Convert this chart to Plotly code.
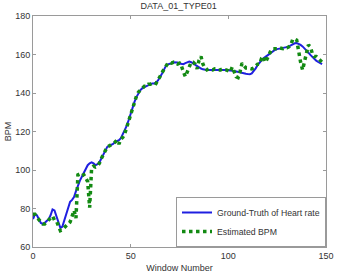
import plotly.graph_objects as go

windows = list(range(149))

ground_truth = [
    74.5, 77, 76.5, 74.5, 72.5, 72, 72.5, 73.5, 74.5, 76.5,
    79.5, 79, 76, 72, 70, 70.5, 74, 77.5, 81, 83.5,
    84.5, 86, 89, 92, 94.5, 96.5, 98.5, 100.5, 102.5, 103.5,
    104, 103.5, 102.5, 103, 104, 106, 108, 110.5, 112, 112.5,
    113, 113.5, 114.5, 115, 115.5, 116.5, 118.5, 120.5, 123, 126,
    129.5, 132.5, 135.5, 138, 140, 141.5, 142.5, 143, 143.5, 144,
    144.5, 145, 145, 145.5, 146.5, 148, 150, 152, 154, 154.8,
    155, 155.5, 156, 156, 155.8, 155.3, 155, 155, 155.5, 156,
    156.3, 156, 155.3, 154.5, 153.8, 153.2, 152.7, 152.3, 152, 151.9,
    152, 152.1, 152, 152, 151.9, 152, 152.1, 152, 152, 151.9,
    151.9, 151.8, 151.6, 151.4, 151.1, 151, 150.8, 150.6, 150.3, 150,
    149.8, 149.7, 150.2, 151.3, 152.8, 154.5, 156, 157, 158, 158.8,
    159.7, 160.6, 161.4, 162, 162.5, 162.8, 163, 163.1, 163.2, 163.3,
    163.6, 164.1, 164.8, 165.4, 165.8, 165.9, 165.6, 165, 164.2, 163.3,
    162.2, 161, 159.8, 158.6, 157.6, 156.8, 156.1, 155.5, 155,
]

estimated = [
    77, 77, 75.5, 74, 73, 72, 72, 73, 74, 75,
    76, 74, 73.5, 71, 68.5, 69, 70, 71.5, 72, 73,
    76, 79, 75, 97.5, 98, 97, 97.5, 96, 94, 80.5,
    101, 102, 101.5, 102, 103.5, 106, 108, 110.5, 112, 112.5,
    113, 113.5, 114.5, 115.5, 113.5, 116, 117, 119, 122.5, 125.5,
    129, 132, 135.5, 138.5, 140.5, 141.5, 142.5, 143.5, 143.5, 144.5,
    144.5, 145, 145.5, 145, 146.5, 148.5, 150.5, 152, 154, 155.5,
    156, 155.5, 156, 155.5, 155, 155.5, 154, 151, 148.5, 151,
    154, 156, 156, 155, 152.5, 157, 159, 155, 153, 152,
    152.5, 152, 152, 152.5, 152, 152, 152, 152.5, 152, 152,
    151.5, 151, 153.5, 151, 148.5, 148, 151, 155.5, 154, 153,
    153, 152.5, 152.5, 153, 154, 155, 155, 158, 159, 156,
    158, 160.5, 162.5, 163, 163, 163, 163.5, 163, 163, 163.5,
    163.5, 164, 165, 168, 168, 167.5, 161, 156, 152, 156,
    161, 165, 164, 160.5, 159, 159, 158, 157, 156,
]

x_ticks = [0, 50, 100, 150]
y_ticks = [60, 80, 100, 120, 140, 160, 180]

FONT = "Liberation Sans, Arial, sans-serif"
TXT = "#333333"
AX = "#9a9a9a"

fig = go.Figure()
fig.add_trace(go.Scatter(
    x=windows, y=ground_truth, mode="lines",
    name="Ground-Truth of Heart rate",
    line=dict(color="#1f1fe0", width=2),
))
fig.add_trace(go.Scatter(
    x=windows, y=estimated, mode="lines",
    name="Estimated BPM",
    line=dict(color="#138a13", width=3.5, dash="dot"),
))

fig.update_layout(
    width=337, height=280,
    margin=dict(l=32.5, r=11, t=15.7, b=33.3),
    paper_bgcolor="white", plot_bgcolor="white",
    font=dict(family=FONT, size=9, color=TXT),
    title=dict(text="DATA_01_TYPE01", x=0.53, xanchor="center",
               y=0.978, yanchor="middle",
               font=dict(family=FONT, size=9, color=TXT)),
    showlegend=True,
    legend=dict(x=1, xanchor="right", y=0, yanchor="bottom",
                bgcolor="white", bordercolor="#9a9a9a", borderwidth=1,
                font=dict(family=FONT, size=8.7, color=TXT),
                tracegroupgap=0),
)
fig.update_xaxes(
    range=[0, 150], tickvals=x_ticks, ticktext=[str(v) for v in x_ticks],
    showgrid=False, zeroline=False, showline=True, linecolor=AX, linewidth=1,
    mirror="ticks", ticks="inside", ticklen=3, tickcolor=AX,
    automargin=False,
    tickfont=dict(family=FONT, size=9, color=TXT),
    title=dict(text="Window Number", standoff=4,
               font=dict(family=FONT, size=9, color=TXT)),
)
fig.update_yaxes(
    range=[60, 180], tickvals=y_ticks, ticktext=[str(v) for v in y_ticks],
    showgrid=False, zeroline=False, showline=True, linecolor=AX, linewidth=1,
    mirror="ticks", ticks="inside", ticklen=3, tickcolor=AX,
    automargin=False,
    tickfont=dict(family=FONT, size=9, color=TXT),
    title=dict(text="BPM", standoff=2,
               font=dict(family=FONT, size=9, color=TXT)),
)

fig.write_html("out.html")
